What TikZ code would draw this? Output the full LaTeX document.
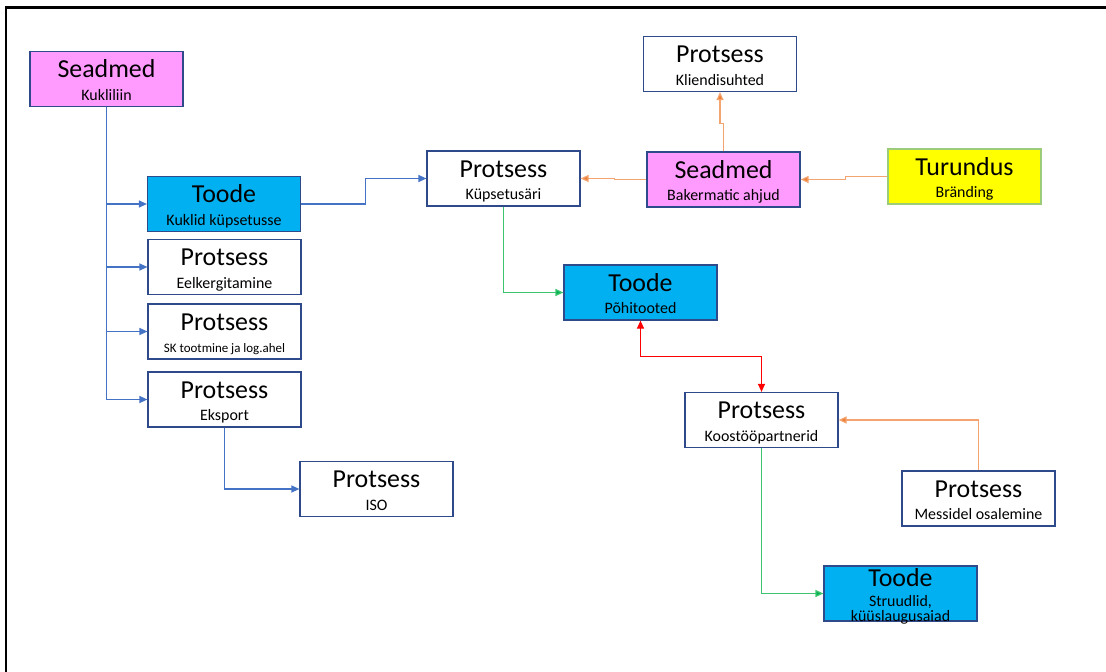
\documentclass[tikz,border=0pt]{standalone}
\usepackage{fontspec}
\setmainfont{Carlito}
\usetikzlibrary{arrows.meta}

\definecolor{boxline}{HTML}{2F4A8A}
\definecolor{pinkfill}{HTML}{FF9BFF}
\definecolor{cyanfill}{HTML}{00B0F0}
\definecolor{yellowfill}{HTML}{FFFF00}
\definecolor{yellowline}{HTML}{9CCB7A}
\definecolor{blueline}{HTML}{4472C4}
\definecolor{orangeline}{HTML}{F4A470}
\definecolor{orangetip}{HTML}{ED7D31}
\definecolor{greenline}{HTML}{3CC46E}
\definecolor{greentip}{HTML}{00B050}

\newcommand{\ttltxt}[1]{\rule{0pt}{24bp}#1}
\newcommand{\subtxt}[1]{{\fontsize{16}{19}\selectfont #1\rule[-4bp]{0pt}{0pt}}}

\tikzset{
  box/.style={draw=boxline, line width=1.2bp, minimum width=153bp, minimum height=55bp,
    inner sep=0pt, align=center, font=\fontsize{26}{23}\selectfont},
  procbox/.style={box, fill=white},
  devbox/.style={box, fill=pinkfill},
  prodbox/.style={box, fill=cyanfill},
  mktbox/.style={box, fill=yellowfill, draw=yellowline},
  blink/.style={draw=blueline, line width=1.2bp, -{Triangle[length=8bp,width=7bp]}},
  olink/.style={draw=orangeline, line width=1.2bp, -{Triangle[length=8bp,width=7bp,fill=orangetip]}},
  glink/.style={draw=greenline, line width=1.2bp, -{Triangle[length=8bp,width=7bp,fill=greentip]}},
  rlink/.style={draw=red, line width=1.2bp, {Triangle[length=8bp,width=7bp]}-{Triangle[length=8bp,width=7bp]}}
}

\begin{document}
\begin{tikzpicture}[x=1bp,y=-1bp]
\useasboundingbox (0,0) rectangle (1106,672);
\draw[line width=2.5bp] (6,672) -- (6,7.5) -- (1106,7.5);

\node[devbox] (kukliliin) at (106.5,79) {\ttltxt{Seadmed}\\\subtxt{Kukliliin}};
\node[prodbox] (kuklid) at (224,204) {\ttltxt{Toode}\\\subtxt{Kuklid küpsetusse}};
\node[procbox] (eelkerg) at (224.5,267) {\ttltxt{Protsess}\\\subtxt{Eelkergitamine}};
\node[procbox] (sktoot) at (224.5,331.5) {\ttltxt{Protsess}\\{\fontsize{13}{19}\selectfont SK tootmine ja log.ahel\rule[-4bp]{0pt}{0pt}}};
\node[procbox] (eksport) at (224.5,399.5) {\ttltxt{Protsess}\\\subtxt{Eksport}};
\node[procbox] (iso) at (376.5,489) {\ttltxt{Protsess}\\\subtxt{ISO}};
\node[procbox] (kypsetus) at (503.5,178.5) {\ttltxt{Protsess}\\\subtxt{Küpsetusäri}};
\node[procbox] (kliendi) at (720,64) {\ttltxt{Protsess}\\\subtxt{Kliendisuhted}};
\node[devbox] (bakermatic) at (723.5,179.5) {\ttltxt{Seadmed}\\\subtxt{Bakermatic ahjud}};
\node[mktbox] (turundus) at (964.5,176.5) {\ttltxt{Turundus}\\\subtxt{Bränding}};
\node[prodbox] (pohi) at (640.5,292.5) {\ttltxt{Toode}\\\subtxt{Põhitooted}};
\node[procbox] (koostoo) at (761.5,420) {\ttltxt{Protsess}\\\subtxt{Koostööpartnerid}};
\node[procbox] (messid) at (978.5,498.5) {\ttltxt{Protsess}\\\subtxt{Messidel osalemine}};
\node[prodbox, text height=55bp, text depth=-2bp] (struud) at (900.5,593.5) {Toode\\[-3bp]\subtxt{Struudlid,}\\[-8bp]{\fontsize{16}{19}\selectfont küüslaugusaiad}};

\draw[blink] (kukliliin.south) |- (kuklid.west);
\draw[blink] (kukliliin.south) |- (eelkerg.west);
\draw[blink] (kukliliin.south) |- (sktoot.west);
\draw[blink] (kukliliin.south) |- (eksport.west);
\draw[blink] (kuklid.east) -- ++(64,0) |- (kypsetus.west);
\draw[blink] (eksport.south) |- (iso.west);
\draw[glink] (kypsetus.south) |- (pohi.west);
\draw[olink] (bakermatic.west) -- ++(-32,0) |- (kypsetus.east);
\draw[olink] (bakermatic.north) -- ++(0,-28) -| (kliendi.south);
\draw[olink] (turundus.west) -- ++(-42,0) |- (bakermatic.east);
\draw[rlink] (pohi.south) -- ++(0,36) -| (koostoo.north);
\draw[olink] (messid.north) |- (koostoo.east);
\draw[glink] (koostoo.south) |- (struud.west);
\end{tikzpicture}
\end{document}
